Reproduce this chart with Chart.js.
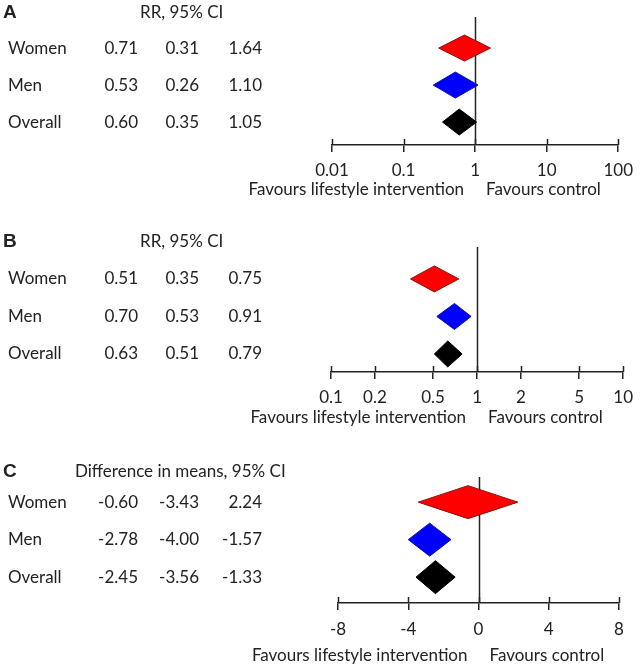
<!DOCTYPE html>
<html><head><meta charset="utf-8">
<script src="https://cdn.jsdelivr.net/npm/chart.js@4.4.1/dist/chart.umd.min.js"></script>
<style>
body{margin:0;background:#fff;width:641px;height:669px;overflow:hidden;position:relative}
canvas{position:absolute;left:0}
</style></head><body>
<canvas id="cA" width="641" height="205" style="top:0"></canvas>
<canvas id="cB" width="641" height="225" style="top:205px"></canvas>
<canvas id="cC" width="641" height="239" style="top:430px"></canvas>
<script>
// ---- data ----
const groups = ['Women', 'Men', 'Overall'];

const estA = [0.71, 0.53, 0.60];
const loA  = [0.31, 0.26, 0.35];
const hiA  = [1.64, 1.10, 1.05];
const ticksA = [0.01, 0.1, 1, 10, 100];
const tickLabelsA = ['0.01', '0.1', '1', '10', '100'];

const estB = [0.51, 0.70, 0.63];
const loB  = [0.35, 0.53, 0.51];
const hiB  = [0.75, 0.91, 0.79];
const ticksB = [0.1, 0.2, 0.5, 1, 2, 5, 10];
const tickLabelsB = ['0.1', '0.2', '0.5', '1', '2', '5', '10'];

const estC = [-0.60, -2.78, -2.45];
const loC  = [-3.43, -4.00, -3.56];
const hiC  = [2.24, -1.57, -1.33];
const ticksC = [-8, -4, 0, 4, 8];
const tickLabelsC = ['-8', '-4', '0', '4', '8'];

const headerA = 'RR, 95% CI';
const headerB = 'RR, 95% CI';
const headerC = 'Difference in means, 95% CI';
const leftLabel = 'Favours lifestyle intervention';
const rightLabel = 'Favours control';

// ---- style ----
const FONT = 'Lato, "Noto Sans", sans-serif';
const FSIZE = 17;
const TXT = '#222';
const fills = ['#ff0000', '#0000ff', '#000000'];
const strokes = ['#8a1010', '#1010a0', '#000000'];

const forestPlugin = {
  id: 'forest',
  beforeDatasetsDraw(chart, args, o) {
    const ctx = chart.ctx, x = chart.scales.x, ca = chart.chartArea;
    const rx = Math.round(x.getPixelForValue(o.ref)) + 0.5;
    ctx.save();
    ctx.strokeStyle = TXT; ctx.lineWidth = 1.5;
    ctx.beginPath(); ctx.moveTo(rx, ca.top); ctx.lineTo(rx, ca.bottom); ctx.stroke();
    ctx.restore();
  },
  afterDatasetsDraw(chart, args, o) {
    const ctx = chart.ctx, x = chart.scales.x, y = chart.scales.y, ca = chart.chartArea;
    ctx.save();
    // diamonds
    o.est.forEach((e, i) => {
      const py = y.getPixelForValue(i);
      const xl = x.getPixelForValue(o.lo[i]), xh = x.getPixelForValue(o.hi[i]), xe = x.getPixelForValue(e);
      ctx.beginPath();
      ctx.moveTo(xl, py); ctx.lineTo(xe, py - o.halfH); ctx.lineTo(xh, py); ctx.lineTo(xe, py + o.halfH); ctx.closePath();
      ctx.fillStyle = fills[i]; ctx.fill();
      ctx.lineWidth = 1; ctx.strokeStyle = strokes[i]; ctx.stroke();
    });
    // upper part of tick marks
    ctx.strokeStyle = TXT; ctx.lineWidth = 1.5;
    x.ticks.forEach(t => {
      const px = Math.round(x.getPixelForValue(t.value)) + 0.5;
      ctx.beginPath(); ctx.moveTo(px, ca.bottom - 6); ctx.lineTo(px, ca.bottom); ctx.stroke();
    });
    // left table
    ctx.fillStyle = TXT; ctx.textBaseline = 'middle';
    ctx.font = 'bold 19px Arial, "Liberation Sans", sans-serif';
    ctx.textAlign = 'left';
    ctx.fillText(o.letter, 3, o.headerY);
    ctx.font = FSIZE + 'px ' + FONT;
    ctx.fillText(o.header, o.headerX, o.headerY);
    groups.forEach((g, i) => {
      const py = y.getPixelForValue(i);
      ctx.textAlign = 'left';
      ctx.fillText(g, 8, py);
      ctx.textAlign = 'right';
      ctx.fillText(o.est[i].toFixed(2), 138, py);
      ctx.fillText(o.lo[i].toFixed(2), 199, py);
      ctx.fillText(o.hi[i].toFixed(2), 262, py);
    });
    // favours labels
    const rx = x.getPixelForValue(o.ref);
    const fy = ca.bottom + o.favOffset;
    ctx.textAlign = 'right'; ctx.fillText(leftLabel, rx - 11, fy);
    ctx.textAlign = 'left'; ctx.fillText(rightLabel, rx + 11, fy);
    ctx.restore();
  }
};

function makeChart(id, cfg) {
  const ds = {
    data: cfg.est.map((e, i) => ({ x: e, y: i })),
    pointRadius: 0, showLine: false
  };
  return new Chart(document.getElementById(id), {
    type: 'scatter',
    data: { datasets: [ds] },
    plugins: [forestPlugin],
    options: {
      responsive: false, animation: false,
      layout: { padding: { left: cfg.left, right: cfg.right, top: cfg.top, bottom: 0 } },
      plugins: { legend: { display: false }, tooltip: { enabled: false }, forest: cfg },
      scales: {
        x: {
          type: cfg.type, min: cfg.ticks[0], max: cfg.ticks[cfg.ticks.length - 1],
          afterBuildTicks: s => { s.ticks = cfg.ticks.map(v => ({ value: v })); },
          afterFit: s => { s.height = cfg.axisH; },
          grid: { drawOnChartArea: false, drawTicks: true, tickLength: 7, color: TXT, lineWidth: 1.5 },
          border: { display: true, color: TXT, width: 1.5 },
          ticks: {
            autoSkip: false, maxRotation: 0, padding: cfg.tickPad, color: TXT,
            font: { family: FONT, size: FSIZE },
            callback: (v, i) => cfg.labels[i]
          }
        },
        y: { type: 'linear', reverse: true, min: cfg.ymin, max: cfg.ymax, display: false }
      }
    }
  });
}

makeChart('cA', {
  type: 'logarithmic', ticks: ticksA, labels: tickLabelsA, est: estA, lo: loA, hi: hiA, ref: 1,
  left: 332, right: 21, top: 17, axisH: 60, ymin: -0.84, ymax: 2.62, tickPad: 8,
  halfH: 13, letter: 'A', header: headerA, headerX: 140, headerY: 13, favOffset: 45
});
makeChart('cB', {
  type: 'logarithmic', ticks: ticksB, labels: tickLabelsB, est: estB, lo: loB, hi: hiB, ref: 1,
  left: 331, right: 9, top: 42, axisH: 58, ymin: -0.85, ymax: 2.48, tickPad: 8,
  halfH: 13, letter: 'B', header: headerB, headerX: 140, headerY: 37, favOffset: 46
});
makeChart('cC', {
  type: 'linear', ticks: ticksC, labels: tickLabelsC, est: estC, lo: loC, hi: hiC, ref: 0,
  left: 338, right: 22, top: 47, axisH: 66, ymin: -0.67, ymax: 2.69, tickPad: 9,
  halfH: 16.5, letter: 'C', header: headerC, headerX: 75, headerY: 42, favOffset: 53
});
</script>
</body></html>
